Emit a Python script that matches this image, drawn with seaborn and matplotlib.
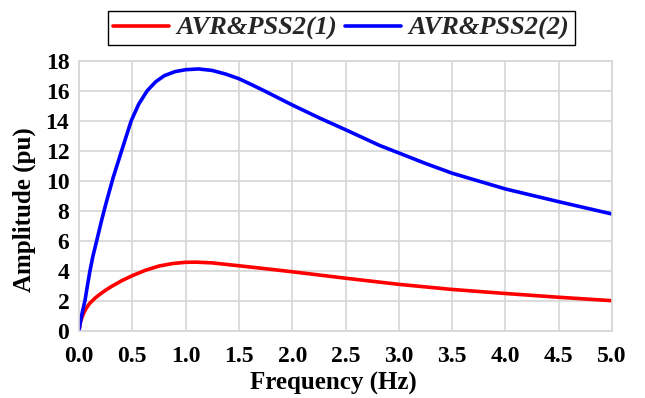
import numpy as np
import pandas as pd
import matplotlib
matplotlib.use("Agg")
import matplotlib.pyplot as plt
import seaborn as sns

# values
freq_1 = [0.0, 0.01, 0.02, 0.03, 0.05, 0.075, 0.1, 0.15, 0.2, 0.25, 0.3, 0.4, 0.5, 0.62,
          0.75, 0.88, 1.0, 1.1, 1.25, 1.5, 1.79, 2.0, 2.5, 3.0, 3.5, 4.0, 4.5, 5.0]
amp_1 = [0.0, 0.45, 0.7, 0.92, 1.27, 1.57, 1.82, 2.17, 2.45, 2.7, 2.93, 3.33, 3.67, 4.02,
         4.31, 4.48, 4.56, 4.57, 4.52, 4.33, 4.1, 3.93, 3.5, 3.09, 2.75, 2.48, 2.23, 2.0]

freq_2 = [0.0, 0.01, 0.03, 0.056, 0.08, 0.103, 0.13, 0.166, 0.21, 0.25, 0.32, 0.4, 0.49,
          0.56, 0.64, 0.72, 0.8, 0.9, 1.0, 1.12, 1.25, 1.38, 1.5, 1.62, 1.75, 2.0, 2.25,
          2.5, 2.82, 3.0, 3.25, 3.5, 4.0, 4.5, 5.0]
amp_2 = [0.0, 0.45, 1.2, 2.0, 3.05, 4.0, 4.95, 6.0, 7.3, 8.4, 10.2, 12.0, 14.0,
         15.1, 16.0, 16.6, 17.0, 17.27, 17.4, 17.45, 17.35, 17.1, 16.8, 16.4, 15.95, 15.05, 14.2,
         13.4, 12.35, 11.85, 11.15, 10.5, 9.45, 8.6, 7.78]

label_1 = "AVR&PSS2(1)"
label_2 = "AVR&PSS2(2)"
x_ticks = [0.0, 0.5, 1.0, 1.5, 2.0, 2.5, 3.0, 3.5, 4.0, 4.5, 5.0]
y_ticks = [0, 2, 4, 6, 8, 10, 12, 14, 16, 18]

sns.set_theme(style="whitegrid")
plt.rcParams["font.family"] = ["Liberation Serif", "DejaVu Serif"]
plt.rcParams["font.weight"] = "bold"

fig = plt.figure(figsize=(6.45, 3.98), dpi=100)
ax = fig.add_axes([79 / 645, 1 - 330.7 / 398, (612 - 79) / 645, (330.7 - 60.7) / 398])

df1 = pd.DataFrame({"freq": freq_1, "amp": amp_1})
df2 = pd.DataFrame({"freq": freq_2, "amp": amp_2})
sns.lineplot(data=df1, x="freq", y="amp", color="#ff0000", linewidth=2.6, label=label_1, ax=ax)
sns.lineplot(data=df2, x="freq", y="amp", color="#0000ff", linewidth=2.6, label=label_2, ax=ax)

ax.set_xlim(0, 5)
ax.set_ylim(0, 18)
ax.set_xticks(x_ticks)
ax.set_xticklabels([f"{t:.1f}" for t in x_ticks])
ax.set_yticks(y_ticks)
ax.tick_params(axis="both", length=0, labelsize=17, colors="black")
ax.tick_params(axis="x", pad=11)
ax.tick_params(axis="y", pad=7)
for lab in ax.get_xticklabels() + ax.get_yticklabels():
    lab.set_fontweight("bold")
ax.grid(True, color="#d6d6d6", linewidth=1.2)
for sp in ax.spines.values():
    sp.set_color("#d6d6d6")
    sp.set_linewidth(1.2)

ax.set_xlabel("Frequency (Hz)", fontsize=18, fontweight="bold", color="black")
ax.set_ylabel("Amplitude (pu)", fontsize=18, fontweight="bold", color="black")
ax.xaxis.set_label_coords((333 - 79) / 533, (330.7 - 372) / 270)
ax.yaxis.set_label_coords((36 - 79) / 533, (330.7 - 210) / 270)

ax.get_legend().remove()
handles, labels = ax.get_legend_handles_labels()
leg = fig.legend(handles, labels, loc="upper left", bbox_to_anchor=(108 / 645, 1 - 11 / 398),
                 ncol=2, frameon=True, fancybox=False, edgecolor="black", framealpha=1,
                 prop={"family": "Liberation Serif", "style": "italic", "weight": "bold", "size": 19},
                 handlelength=2.1, handletextpad=0.3, columnspacing=0.3, borderpad=0.2,
                 borderaxespad=0)
leg.get_frame().set_linewidth(1.0)

fig.savefig("out.png", dpi=100)
